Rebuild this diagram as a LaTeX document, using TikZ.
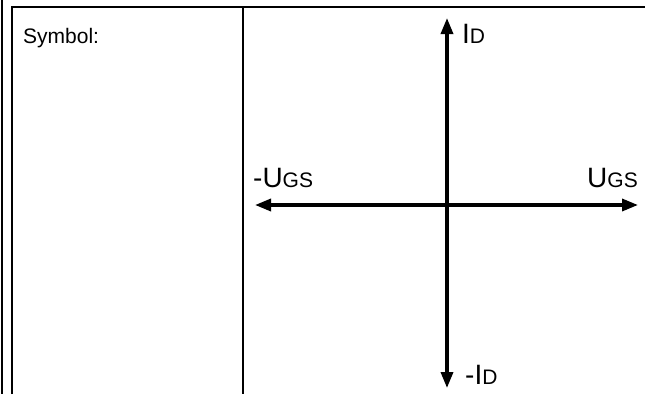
\documentclass[tikz,border=0pt]{standalone}
\usepackage{fontspec}
\setmainfont{Liberation Sans}
\usetikzlibrary{arrows.meta,positioning}
\newcommand{\lowtxt}[1]{{\fontsize{21}{21}\selectfont #1}}

\begin{document}
\begin{tikzpicture}[x=1pt,y=-1pt,
    frame/.style={line width=1.8pt},
    axis/.style={line width=3.4pt,-{Triangle[length=16pt,width=12pt]}},
    axislabel/.style={inner sep=0pt,font=\fontsize{28}{28}\selectfont}]
  \useasboundingbox (0,0) rectangle (645,394);
% table frame
  \coordinate (outtop) at (2,0);
  \coordinate (outbot) at (2,394);
  \coordinate (corner) at (12,7);
  \coordinate (leftbot) at (12,394);
  \coordinate (righttop) at (645,7);
  \coordinate (divtop) at (243,7);
  \coordinate (divbot) at (243,394);
  \draw[frame] (outtop) -- (outbot) ;
  \draw[frame] (leftbot) -- (corner) -- (righttop) ;
  \draw[line width=2.8pt] (divtop) -- (divbot) ;
  \node[anchor=base west,inner sep=0pt,font=\fontsize{21}{21}\selectfont] (symbol) at (23,43) {Symbol:};
% axes
  \coordinate (origin) at (447,205);
  \coordinate (idp) at (447,18);
  \coordinate (idn) at (447,388);
  \coordinate (ugsp) at (638,205);
  \coordinate (ugsn) at (255,205);
  \draw[axis,shorten <=-1.7pt] (origin) -- (idp) ;
  \draw[axis,shorten <=-1.7pt] (origin) -- (idn) ;
  \draw[axis,shorten <=-1.7pt] (origin) -- (ugsp) ;
  \draw[axis,shorten <=-1.7pt] (origin) -- (ugsn) ;
  \node[axislabel,anchor=base west] (lid) at (462,43) {I\lowtxt{D}};
  \node[axislabel,anchor=base west] (lnid) at (465,384) {-I\lowtxt{D}};
  \node[axislabel,anchor=base west] (lnugs) at (253,187) {-U\lowtxt{GS}};
  \node[axislabel,anchor=base east] (lugs) at (638,187) {U\lowtxt{GS}};
\end{tikzpicture}
\end{document}
